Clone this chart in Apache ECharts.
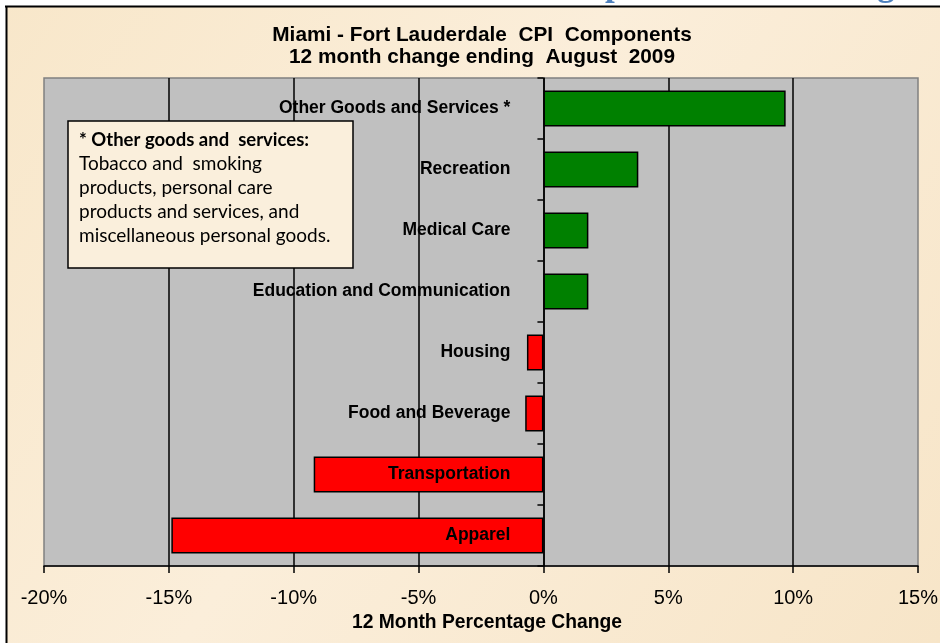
<!DOCTYPE html>
<html>
<head>
<meta charset="utf-8">
<script src="https://cdn.jsdelivr.net/npm/echarts@6/dist/echarts.min.js"></script>
<style>html,body{margin:0;padding:0;background:#fff;}#c{width:940px;height:643px;}</style>
</head>
<body>
<div id="c"></div>
<script>
const categories = ['Other Goods and Services *', 'Recreation', 'Medical Care', 'Education and Communication', 'Housing', 'Food and Beverage', 'Transportation', 'Apparel'];
const values = [9.7, 3.8, 1.8, 1.8, -0.66, -0.73, -9.2, -14.9];
const xMin = -20, xMax = 15, xStep = 5;
const titleLines = ['Miami - Fort Lauderdale  CPI  Components', '12 month change ending  August  2009'];
const xAxisTitle = '12 Month Percentage Change';
const noteTitle = '* Other goods and  services:';
const noteLines = ['Tobacco and  smoking', 'products, personal care', 'products and services, and', 'miscellaneous personal goods.'];
const slideTitle = 'Components and Change';

const chart = echarts.init(document.getElementById('c'), null, {renderer: 'canvas'});
const noteText = '{b|' + noteTitle + '}\n' + noteLines.map(l => '{n|' + l + '}').join('\n');

chart.setOption({
  animation: false,
  backgroundColor: {type: 'linear', x: 0, y: 0, x2: 1, y2: 1, colorStops: [
    {offset: 0, color: '#F8E7CA'}, {offset: 0.45, color: '#FBEEDA'}, {offset: 1, color: '#F7E5C8'}]},
  title: {
    text: titleLines.join('\n'), left: 477, top: 19, textAlign: 'center',
    textStyle: {fontFamily: 'Liberation Sans', fontSize: 20.8, fontWeight: 'bold', color: '#000', lineHeight: 22}
  },
  grid: {left: 44, right: 22, top: 78, bottom: 77, containLabel: false, outerBoundsMode: 'none',
    show: true, backgroundColor: '#C0C0C0', borderColor: '#808080', borderWidth: 1.5},
  xAxis: {
    type: 'value', min: xMin, max: xMax, interval: xStep,
    axisLabel: {formatter: v => v + '%', fontFamily: 'Liberation Sans', fontSize: 20, color: '#000', margin: 22},
    axisLine: {show: true, onZero: false, lineStyle: {color: '#000', width: 1.5}},
    axisTick: {show: true, length: 7, lineStyle: {color: '#000', width: 1.5}},
    splitLine: {show: true, showMinLine: false, showMaxLine: false, lineStyle: {color: '#000', width: 1.5}},
    name: xAxisTitle, nameLocation: 'middle', nameGap: 45,
    nameTextStyle: {fontFamily: 'Liberation Sans', fontSize: 19.3, fontWeight: 'bold', color: '#000', padding: [0, 0, 0, 12]}
  },
  yAxis: {
    type: 'category', data: categories, inverse: true,
    axisLine: {show: true, onZero: true, lineStyle: {color: '#000', width: 1.5}},
    axisTick: {show: true, length: 6, lineStyle: {color: '#000', width: 1.5}},
    axisLabel: {show: false},
    splitLine: {show: false}
  },
  series: [{
    type: 'bar', barWidth: '59%',
    data: values.map(v => ({value: v, itemStyle: {color: v >= 0 ? '#008000' : '#FF0000'}})),
    itemStyle: {borderColor: '#000', borderWidth: 1.5}
  }, {
    type: 'scatter', z: 6, symbolSize: 0, silent: true,
    itemStyle: {color: '#000', opacity: 1},
    data: categories.map(c => [0, c]),
    label: {show: true, position: 'left', distance: 33, formatter: p => p.value[1],
      fontFamily: 'Liberation Sans', fontSize: 17.5, fontWeight: 'bold', color: '#000',
      textBorderWidth: 0, opacity: 1}
  }],
  graphic: [
    {type: 'rect', z: 50, shape: {x: 0, y: 0, width: 940, height: 6}, style: {fill: '#fff'}},
    {type: 'rect', z: 50, shape: {x: 0, y: 0, width: 6, height: 643}, style: {fill: '#fff'}},
    {type: 'text', z: 60, x: 533, y: -14.5, style: {text: slideTitle, font: 'bold 35px "Liberation Serif"', fill: '#4F81BD', textVerticalAlign: 'middle'}},
    {type: 'line', z: 70, shape: {x1: 5, y1: 6.5, x2: 940, y2: 6.5}, style: {stroke: '#000', lineWidth: 2}},
    {type: 'line', z: 70, shape: {x1: 6.5, y1: 6, x2: 6.5, y2: 643}, style: {stroke: '#000', lineWidth: 2}},
    {type: 'rect', z: 100, shape: {x: 68, y: 121, width: 285, height: 147}, style: {fill: '#FAEFDC', stroke: '#000', lineWidth: 1.5}},
    {type: 'text', z: 101, x: 79, y: 128, style: {
      text: noteText,
      rich: {
        b: {fontFamily: 'Lato', fontSize: 18.5, fontWeight: 'bold', lineHeight: 24, fill: '#000'},
        n: {fontFamily: 'Lato', fontSize: 19, lineHeight: 24, fill: '#000'}
      }
    }}
  ]
});
</script>
</body>
</html>
